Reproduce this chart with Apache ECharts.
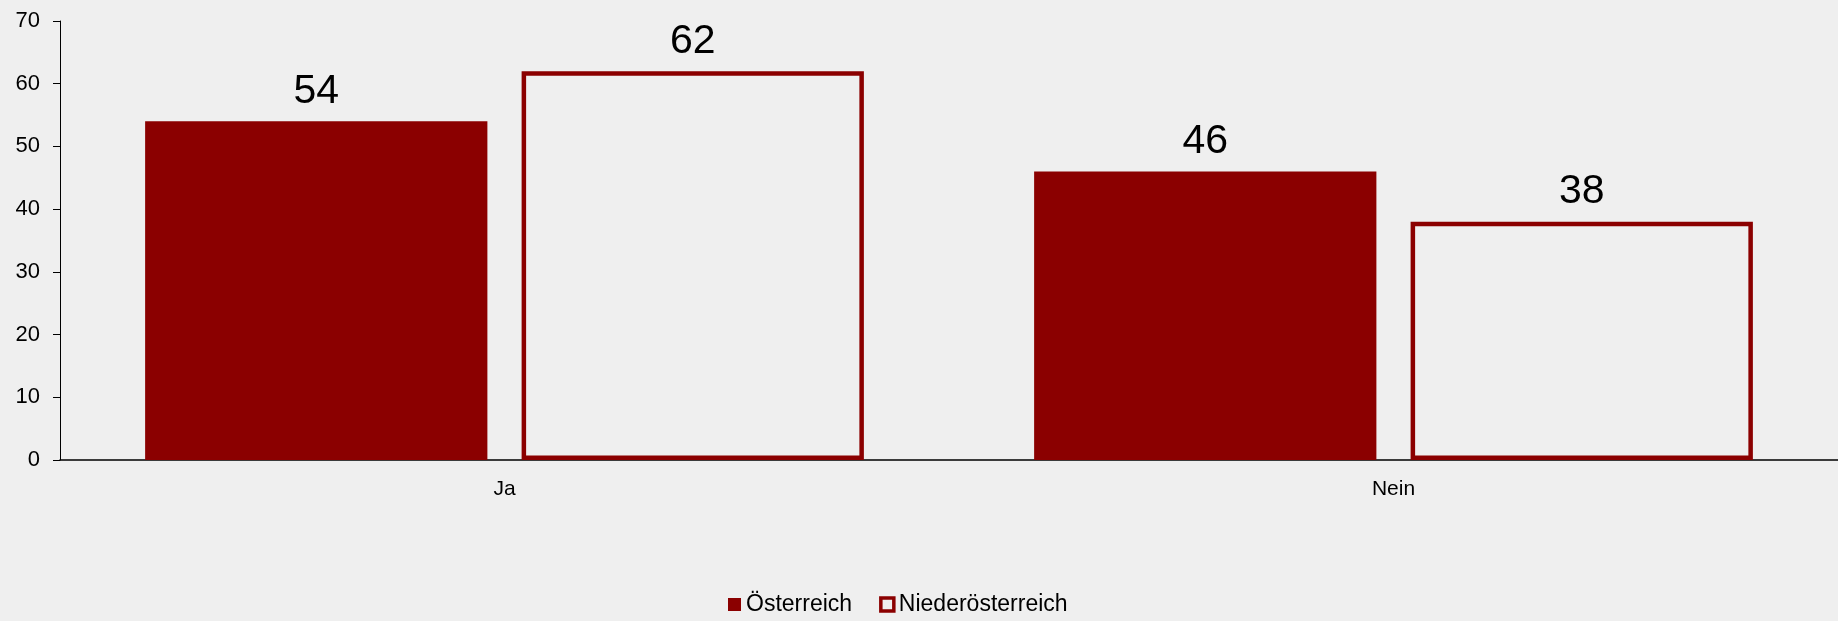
<!DOCTYPE html>
<html>
<head>
<meta charset="utf-8">
<script src="https://cdn.jsdelivr.net/npm/echarts@6/dist/echarts.min.js"></script>
<style>
  html, body { margin: 0; padding: 0; background: #efefef; }
  #chart { width: 1838px; height: 621px; }
</style>
</head>
<body>
<div id="chart"></div>
<script>
const categories = ["Ja", "Nein"];
const seriesNames = ["Österreich", "Niederösterreich"];
const oesterreich = [54, 46];
const niederoesterreich = [62, 38];
const yTicks = [0, 10, 20, 30, 40, 50, 60, 70];

const red = "#8b0000";
const font = "Liberation Sans, Arial, sans-serif";

const chart = echarts.init(document.getElementById("chart"));
const valueLabel = {
  show: true,
  position: "top",
  distance: 9,
  fontSize: 41,
  color: "#000",
  fontFamily: font,
};
chart.setOption({
  backgroundColor: "#efefef",
  animation: false,
  grid: { left: 60, right: 0, top: 21, bottom: 161 },
  legend: {
    bottom: 0,
    left: 723,
    itemWidth: 13,
    itemHeight: 13,
    itemGap: 27,
    textStyle: { fontSize: 23, color: "#000", fontFamily: font },
    data: [
      { name: seriesNames[0], icon: "rect" },
      { name: seriesNames[1], icon: "rect", itemStyle: { borderWidth: 3.5 } },
    ],
  },
  xAxis: {
    type: "category",
    data: categories,
    axisTick: { show: false },
    axisLine: { lineStyle: { color: "#000", width: 1.5 } },
    axisLabel: { fontSize: 21, color: "#000", fontFamily: font, margin: 19 },
  },
  yAxis: {
    type: "value",
    min: yTicks[0],
    max: yTicks[yTicks.length - 1],
    interval: 10,
    splitLine: { show: false },
    axisLine: { show: true, lineStyle: { color: "#000", width: 1 } },
    axisTick: { show: true, length: 7, lineStyle: { color: "#000" } },
    axisLabel: { fontSize: 22, color: "#000", fontFamily: font, margin: 20 },
  },
  series: [
    {
      name: seriesNames[0],
      type: "bar",
      data: oesterreich,
      barWidth: "38.5%",
      barGap: "10%",
      itemStyle: { color: red },
      label: valueLabel,
    },
    {
      name: seriesNames[1],
      type: "bar",
      data: niederoesterreich,
      barWidth: "38.5%",
      itemStyle: { color: "rgba(0,0,0,0)", borderColor: red, borderWidth: 4.5 },
      label: valueLabel,
    },
  ],
});
</script>
</body>
</html>
